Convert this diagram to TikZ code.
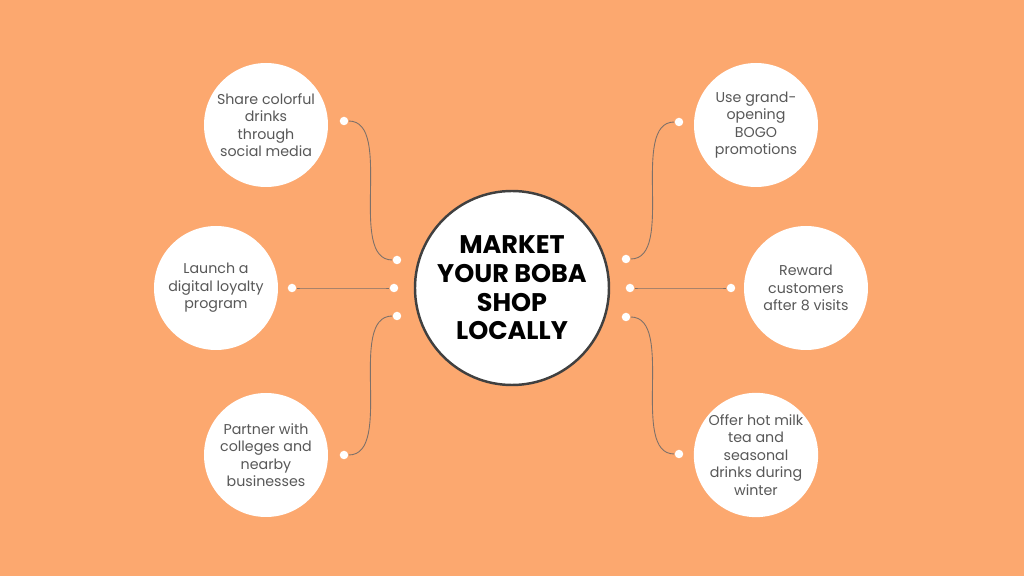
\documentclass[tikz,border=0pt]{standalone}
\usepackage{fontspec}
\setmainfont{Poppins}
\usetikzlibrary{arrows}
\definecolor{peach}{RGB}{252,168,111}
\definecolor{ink}{RGB}{88,88,88}
\definecolor{wire}{RGB}{125,112,105}

\begin{document}
\begin{tikzpicture}[semithick,bubble/.style={circle,fill=white,minimum size=2.48cm,inner sep=0pt,align=center,text=ink,font=\fontsize{8.1}{9.9}\selectfont},hub/.style={circle,fill=white,draw=black!75,line width=1.4pt,minimum size=3.88cm,inner sep=0pt,align=center,font=\fontsize{14.5}{16.3}\selectfont\bfseries},dot/.style={circle,fill=white,minimum size=0.17cm,inner sep=0pt},link/.style={draw=wire,line width=0.5pt,out=0,in=180,looseness=0.8}]
\fill[peach] (-10.24,-5.76) rectangle (10.24,5.76);
\node[hub] (hub) at (0,0) {MARKET\\YOUR BOBA\\SHOP\\LOCALLY};

\node[bubble] (share) at (-4.92,3.26) {Share colorful\\drinks\\through\\social media};
\node[bubble] (loyal) at (-5.92,0) {Launch a\\digital loyalty\\program};
\node[bubble] (partner) at (-4.92,-3.34) {Partner with\\colleges and\\nearby\\businesses};
\node[bubble] (bogo) at (4.88,3.26) {Use grand-\\opening\\BOGO\\promotions};
\node[bubble] (reward) at (5.88,0) {Reward\\customers\\after 8 visits};
\node[bubble] (winter) at (4.88,-3.34) {Offer hot milk\\tea and\\seasonal\\drinks during\\winter};

\node[dot] (share1) at (-3.36,3.34) {};
\node[dot] (share2) at (-2.3,0.56) {};
\node[dot] (loyal1) at (-4.4,0) {};
\node[dot] (loyal2) at (-2.36,0) {};
\node[dot] (partner1) at (-3.36,-3.34) {};
\node[dot] (partner2) at (-2.3,-0.56) {};
\node[dot] (bogo1) at (3.34,3.32) {};
\node[dot] (bogo2) at (2.28,0.58) {};
\node[dot] (reward1) at (4.38,0) {};
\node[dot] (reward2) at (2.36,0) {};
\node[dot] (winter1) at (3.34,-3.32) {};
\node[dot] (winter2) at (2.28,-0.58) {};

\path (share1) edge[link] (share2)
      (loyal1) edge[link] (loyal2)
      (partner1) edge[link] (partner2)
      (bogo2) edge[link] (bogo1)
      (reward2) edge[link] (reward1)
      (winter2) edge[link] (winter1);
\end{tikzpicture}
\end{document}
